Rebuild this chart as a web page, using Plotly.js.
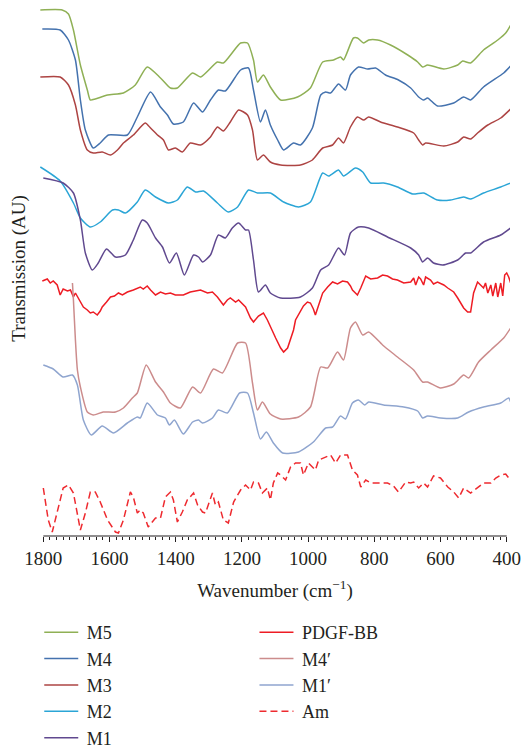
<!DOCTYPE html>
<html>
<head>
<meta charset="utf-8">
<script src="https://cdn.plot.ly/plotly-3.0.1.min.js"></script>
<style>html,body{margin:0;padding:0;background:#fff;}#chart{width:527px;height:750px;}</style>
</head>
<body>
<div id="chart"></div>
<script>
// Wavenumber (cm^-1) and offset transmission (AU)
const m5_x = [1809,1743,1724,1709,1688,1667,1658,1643,1606,1558,1522,1486,1446,1416,1395,1349,1325,1274,1256,1204,1183,1165,1153,1135,1114,1083,1032,993,956,923,902,893,863,851,832,817,790,751,699,669,654,639,590,548,533,509,470,427,403,388];
const m5_y = [526,526,522,506,471,446,436,437,441,443,451,469,458,448,448,463,459,474,473,493,493,476,454,461,449,436,439,448,474,476,479,476,498,498,493,496,496,491,481,474,469,471,467,471,475,473,486,496,503,511];

const m4_x = [1803,1749,1724,1703,1688,1673,1649,1628,1603,1546,1516,1476,1446,1425,1407,1377,1346,1319,1295,1271,1250,1204,1180,1165,1144,1129,1114,1092,1074,1044,1023,987,962,947,932,908,887,872,848,820,796,766,727,690,666,651,639,609,560,530,509,470,409,388];
const m4_y = [507,506,496,476,436,406,388,393,401,401,419,444,429,421,412,414,433,424,436,446,445,466,468,446,414,426,411,396,386,393,391,408,441,444,443,452,446,461,469,467,468,461,456,448,439,436,438,430,433,439,436,449,463,470];

const m3_x = [1809,1749,1724,1703,1688,1667,1649,1622,1597,1576,1558,1528,1492,1476,1455,1437,1422,1401,1380,1356,1325,1295,1274,1256,1235,1210,1183,1168,1153,1135,1114,1083,1023,987,956,926,908,893,872,851,832,817,781,730,681,666,654,645,590,548,530,509,488,457,418,388];
const m3_y = [459,459,451,431,406,386,383,384,381,386,393,401,413,408,401,396,386,388,384,393,391,399,409,405,414,426,421,406,376,381,374,371,371,376,388,391,398,393,409,419,416,419,414,409,403,396,391,393,390,394,399,397,403,411,418,427];

const m2_x = [1809,1749,1709,1688,1658,1628,1591,1573,1552,1516,1492,1461,1422,1395,1365,1340,1316,1274,1241,1213,1180,1153,1114,1074,1029,993,956,938,908,893,857,835,811,772,730,684,651,609,569,530,509,470,418,388];
const m2_y = [369,355,333,318,309,314,326,326,323,334,346,339,333,336,349,344,345,333,324,329,346,343,343,334,329,334,363,360,366,360,368,364,353,353,349,342,343,336,336,339,337,343,349,353];

const m1_x = [1800,1740,1709,1688,1673,1652,1634,1609,1582,1552,1528,1501,1486,1461,1440,1419,1398,1374,1346,1331,1319,1295,1271,1250,1229,1210,1189,1180,1165,1150,1129,1114,1083,1023,987,962,938,908,890,872,848,817,760,690,666,654,639,621,593,548,524,509,470,418,388];
const m1_y = [358,353,343,316,283,266,273,287,279,281,296,316,313,298,289,273,283,261,281,279,274,281,301,298,308,313,306,306,276,244,251,243,238,239,248,266,271,288,281,303,309,308,299,288,281,274,278,273,271,276,283,283,294,301,308];

const pdgf_x = [1803,1788,1779,1770,1758,1749,1740,1727,1718,1709,1703,1694,1679,1667,1658,1649,1637,1628,1622,1609,1597,1585,1573,1561,1546,1528,1507,1498,1486,1476,1461,1446,1431,1416,1401,1377,1356,1325,1304,1289,1274,1256,1244,1235,1219,1210,1189,1174,1165,1150,1135,1123,1114,1098,1083,1074,1062,1053,1044,1038,1023,1014,1002,993,984,978,968,956,941,926,911,896,881,872,866,851,841,826,811,790,775,760,745,730,711,690,681,675,666,660,651,645,630,621,609,590,578,560,548,539,530,518,509,500,488,479,470,464,457,448,442,433,427,418,412,406,400,394,388];
const pdgf_y = [255,257,253,255,251,241,247,245,246,239,243,238,229,226,223,224,221,225,229,234,239,240,243,241,244,246,249,247,250,246,241,244,242,243,241,241,244,246,243,244,239,231,236,238,234,236,229,218,214,220,223,216,209,198,188,184,188,196,206,216,224,230,234,233,227,221,231,243,249,254,252,255,254,250,246,241,248,260,257,258,261,260,257,256,253,254,258,251,259,257,251,259,256,252,254,251,248,244,238,233,228,224,224,243,254,251,248,253,243,251,240,253,239,253,240,261,263,259,253];

const m4p_x = [1712,1709,1703,1697,1688,1667,1649,1619,1582,1558,1531,1516,1489,1461,1437,1416,1386,1349,1325,1286,1259,1213,1189,1168,1153,1138,1114,1083,1029,993,962,941,911,893,872,857,835,817,775,730,681,654,639,600,560,530,515,485,448,409,388];
const m4p_y = [253,236,196,166,149,124,121,124,124,128,138,143,171,154,144,133,128,149,143,167,163,193,193,153,126,134,122,117,119,129,169,168,184,176,208,214,201,204,191,179,166,154,154,148,152,161,158,174,186,198,208];

const m1p_x = [1800,1770,1740,1712,1697,1679,1655,1622,1588,1546,1516,1507,1486,1455,1431,1419,1404,1377,1349,1331,1319,1289,1271,1244,1207,1183,1165,1144,1126,1105,1077,1029,984,947,926,902,887,866,848,829,817,772,711,669,654,639,600,548,515,470,418,394,388];
const m1p_y = [171,167,159,161,151,116,101,110,103,113,119,118,133,121,118,111,116,102,114,116,113,118,126,123,143,143,123,97,104,93,83,84,94,108,109,120,117,133,136,131,134,131,129,125,118,120,118,118,124,129,133,138,134];

const am_x = [1800,1785,1773,1758,1740,1724,1709,1688,1673,1658,1643,1628,1606,1582,1573,1558,1537,1528,1516,1507,1498,1483,1461,1446,1431,1416,1407,1395,1380,1365,1356,1346,1334,1319,1310,1289,1280,1271,1256,1241,1225,1204,1189,1174,1165,1150,1138,1123,1114,1105,1092,1083,1068,1053,1038,1023,1014,999,987,978,968,947,932,917,902,881,866,851,841,826,811,790,760,742,727,705,690,681,666,651,639,621,600,578,560,545,530,509,488,470,448,433,418,403,394];
const am_y = [48,16,4,23,48,51,43,6,23,44,44,34,16,4,3,16,44,39,23,26,23,9,18,18,39,44,36,14,24,36,39,43,31,24,23,43,31,34,16,13,34,46,51,46,54,53,43,48,36,53,63,61,56,69,73,73,61,73,69,66,76,79,81,73,81,81,66,61,49,56,53,53,53,50,44,54,53,54,48,53,49,60,58,49,44,38,48,43,48,53,53,58,61,62,58];

const seriesNames = ['M5','M4','M3','M2','M1','PDGF-BB','M4\u2032','M1\u2032','Am'];
const seriesX = [m5_x,m4_x,m3_x,m2_x,m1_x,pdgf_x,m4p_x,m1p_x,am_x];
const seriesY = [m5_y,m4_y,m3_y,m2_y,m1_y,pdgf_y,m4p_y,m1p_y,am_y];
const colors = ['#8fb055','#4472ae','#ad4443','#2ba5d6','#60498f','#ee1c24','#cc8c8c','#8fa5cf','#ee2a2f'];
const xTickVals = [1800,1600,1400,1200,1000,800,600,400];

const FONT = 'Liberation Serif, Times New Roman, serif';
const traces = seriesNames.map((n,i)=>{
  const smooth = !(n==='PDGF-BB' || n==='Am');
  return {
    type:'scatter', mode:'lines', name:'\u2009' + n,
    x: seriesX[i], y: seriesY[i],
    line:{color:colors[i], width:1.5, dash: n==='Am' ? '7px,4px' : 'solid',
          shape: smooth ? 'spline' : 'linear', smoothing: smooth ? 0.6 : 0},
    legend: i<5 ? 'legend' : 'legend2',
    hoverinfo:'skip'
  };
});

const legendCommon = {font:{family:FONT, size:18, color:'#231f20'}, bgcolor:'rgba(0,0,0,0)',
  itemwidth:34, tracegroupgap:0, xanchor:'left', yanchor:'top'};

const layout = {
  width:527, height:750,
  margin:{l:40, r:17, t:1, b:214, autoexpand:false},
  paper_bgcolor:'#fff', plot_bgcolor:'#fff',
  font:{family:FONT, size:19, color:'#231f20'},
  showlegend:true,
  xaxis:{
    range:[1810,390], tickvals:xTickVals, ticktext:xTickVals.map(String),
    ticks:'outside', ticklen:5, tickwidth:1, tickcolor:'#231f20',
    minor:{dtick:20, tick0:0, ticks:'outside', ticklen:3, tickcolor:'#231f20'},
    showline:false, showgrid:false, zeroline:false,
    tickfont:{family:FONT, size:19, color:'#231f20'},
    title:{text:'Wavenumber (cm<sup>\u22121</sup>)', font:{family:FONT, size:19, color:'#231f20'}, standoff:15}
  },
  yaxis:{
    range:[0,535], showticklabels:false, ticks:'', showline:false, showgrid:false, zeroline:false,
    title:{text:'Transmission (AU)', font:{family:FONT, size:19, color:'#231f20'}, standoff:8}
  },
  shapes:[{type:'line', xref:'x', yref:'paper', x0:1800, x1:400, y0:0, y1:0, line:{color:'#231f20', width:1.2}}],
  legend: Object.assign({x:-0.0016, y:-0.1457}, legendCommon),
  legend2: Object.assign({x:0.4563, y:-0.1457}, legendCommon)
};

Plotly.newPlot('chart', traces, layout, {staticPlot:true, displayModeBar:false});
</script>
</body>
</html>
